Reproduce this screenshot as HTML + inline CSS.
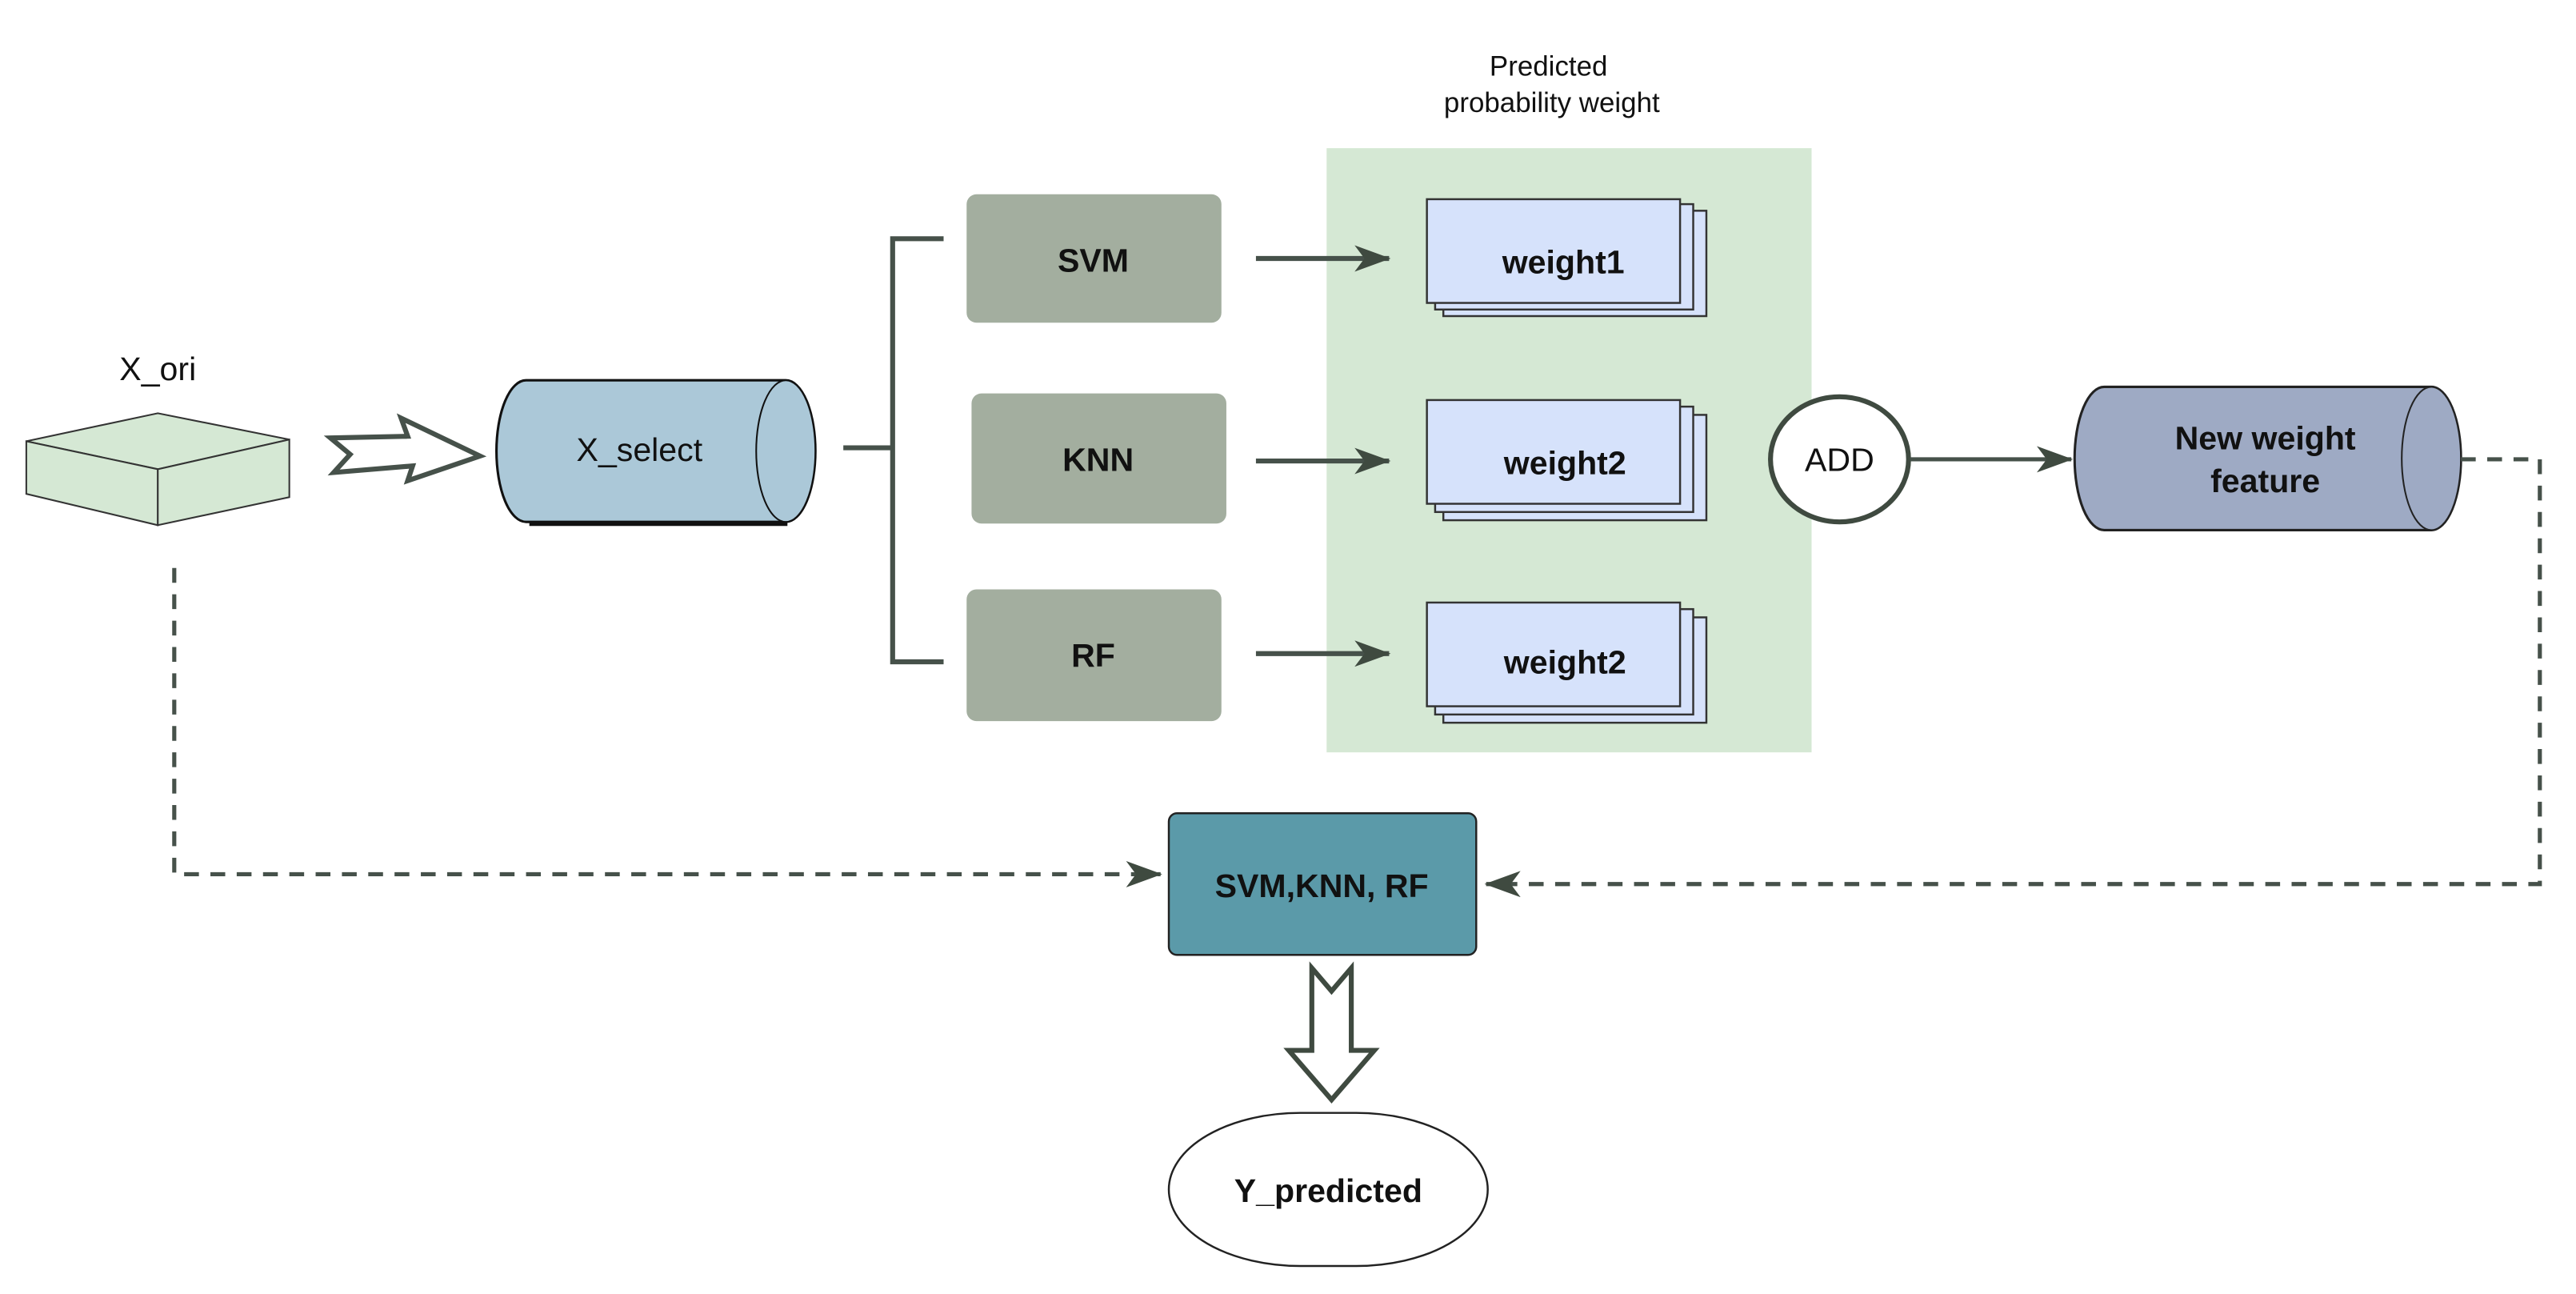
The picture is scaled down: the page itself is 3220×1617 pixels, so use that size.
<!DOCTYPE html>
<html><head><meta charset="utf-8"><style>
html,body{margin:0;padding:0;background:#fff;}
svg{display:block;}
text{font-family:"Liberation Sans",sans-serif;fill:#111;}
</style></head><body>
<svg width="3220" height="1617" viewBox="0 0 1567 786" preserveAspectRatio="none" xmlns="http://www.w3.org/2000/svg">
<defs>
<marker id="ah2" markerWidth="22" markerHeight="16" refX="21" refY="8" orient="auto" markerUnits="userSpaceOnUse">
<path d="M0,0 L22,8 L0,16 L6,8 Z" fill="#3f4a40"/>
</marker>
</defs>
<!-- X_ori -->
<text x="96" y="231" font-size="20" text-anchor="middle">X_ori</text>
<polygon points="16,268 96,251 176,267 96,285" fill="#d5e8d4" stroke="#333" stroke-width="1"/>
<polygon points="16,268 96,285 96,319 16,300" fill="#d5e8d4" stroke="#333" stroke-width="1"/>
<polygon points="96,285 176,267 176,302 96,319" fill="#d5e8d4" stroke="#333" stroke-width="1"/>
<!-- double arrow -->
<polygon points="201,266 248,265 244,254 292,277 248,292 251,283 203,287 213,276" fill="#fff" stroke="#46514a" stroke-width="3" stroke-linejoin="miter"/>
<!-- X_select cylinder -->
<path d="M320,231 L478,231 A18,43 0 0 1 478,317 L320,317 A18,43 0 0 1 320,231 Z" fill="#abc8d8" stroke="#111" stroke-width="1.5"/>
<path d="M322,318 L479,318" stroke="#111" stroke-width="3"/>
<ellipse cx="478" cy="274" rx="18" ry="43" fill="#abc8d8" stroke="#111" stroke-width="1"/>
<text x="389" y="280" font-size="20" text-anchor="middle">X_select</text>
<!-- bracket -->
<path d="M513,272 L543,272 M574,145 L543,145 L543,402 L574,402" fill="none" stroke="#46514a" stroke-width="3"/>
<!-- classifier boxes -->
<rect x="588" y="118" width="155" height="78" rx="6" fill="#a3ae9f"/>
<text x="665" y="165" font-size="20" font-weight="bold" text-anchor="middle">SVM</text>
<rect x="591" y="239" width="155" height="79" rx="6" fill="#a3ae9f"/>
<text x="668" y="286" font-size="20" font-weight="bold" text-anchor="middle">KNN</text>
<rect x="588" y="358" width="155" height="80" rx="6" fill="#a3ae9f"/>
<text x="665" y="405" font-size="20" font-weight="bold" text-anchor="middle">RF</text>
<!-- green panel -->
<text x="942" y="46" font-size="17" text-anchor="middle">Predicted</text>
<text x="944" y="68" font-size="17" text-anchor="middle">probability weight</text>
<rect x="807" y="90" width="295" height="367" fill="#d5e8d4"/>
<!-- arrows -->
<line x1="764" y1="157" x2="845" y2="157" stroke="#46514a" stroke-width="3" marker-end="url(#ah2)"/>
<line x1="764" y1="280" x2="845" y2="280" stroke="#46514a" stroke-width="3" marker-end="url(#ah2)"/>
<line x1="764" y1="397" x2="845" y2="397" stroke="#46514a" stroke-width="3" marker-end="url(#ah2)"/>
<!-- weight stacks -->
<g fill="#d6e2fb" stroke="#333" stroke-width="1.2">
<rect x="878" y="128" width="160" height="64"/><rect x="873" y="124" width="157" height="64"/><rect x="868" y="121" width="154" height="63"/>
<rect x="878" y="252" width="160" height="64"/><rect x="873" y="247" width="157" height="64"/><rect x="868" y="243" width="154" height="63"/>
<rect x="878" y="375" width="160" height="64"/><rect x="873" y="370" width="157" height="64"/><rect x="868" y="366" width="154" height="63"/>
</g>
<text x="951" y="166" font-size="20" font-weight="bold" text-anchor="middle">weight1</text>
<text x="952" y="288" font-size="20" font-weight="bold" text-anchor="middle">weight2</text>
<text x="952" y="409" font-size="20" font-weight="bold" text-anchor="middle">weight2</text>
<!-- ADD -->
<ellipse cx="1119" cy="279" rx="42" ry="38" fill="#fff" stroke="#3f4a40" stroke-width="3"/>
<text x="1119" y="286" font-size="20" text-anchor="middle">ADD</text>
<line x1="1162" y1="279" x2="1260" y2="279" stroke="#46514a" stroke-width="2.5" marker-end="url(#ah2)"/>
<!-- New weight feature cylinder -->
<path d="M1280,235 L1479,235 A18,43.5 0 0 1 1479,322 L1280,322 A18,43.5 0 0 1 1280,235 Z" fill="#9eaac4" stroke="#222" stroke-width="1.5"/>
<ellipse cx="1479" cy="278.5" rx="18" ry="43.5" fill="#9eaac4" stroke="#222" stroke-width="1"/>
<text x="1378" y="273" font-size="20" font-weight="bold" text-anchor="middle">New weight</text>
<text x="1378" y="299" font-size="20" font-weight="bold" text-anchor="middle">feature</text>
<!-- dashed lines -->
<path d="M1497,279 L1545,279 L1545,537 L904,537" fill="none" stroke="#46514a" stroke-width="2.5" stroke-dasharray="9,7" marker-end="url(#ah2)"/>
<path d="M106,345 L106,531 L706,531" fill="none" stroke="#46514a" stroke-width="2.5" stroke-dasharray="9,7" marker-end="url(#ah2)"/>
<!-- combined box -->
<rect x="711" y="494" width="187" height="86" rx="5" fill="#5b9aa9" stroke="#222" stroke-width="1.2"/>
<text x="804" y="545" font-size="20" font-weight="bold" text-anchor="middle">SVM,KNN, RF</text>
<!-- hollow down arrow -->
<polygon points="798,588 810,602 822,588 822,638 836,638 810,668 784,638 798,638" fill="#fff" stroke="#3f4a40" stroke-width="3"/>
<!-- Y_predicted -->
<rect x="711" y="676" width="194" height="93" rx="80" ry="46.5" fill="#fff" stroke="#222" stroke-width="1.2"/>
<text x="808" y="730" font-size="20" font-weight="bold" text-anchor="middle">Y_predicted</text>
</svg>
</body></html>
